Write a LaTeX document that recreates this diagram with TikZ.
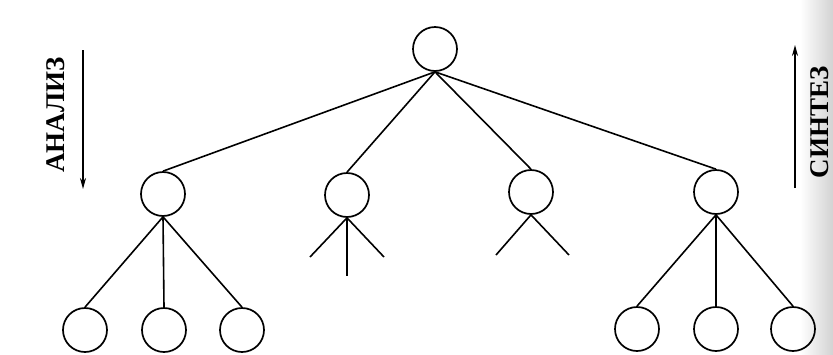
\documentclass[tikz,border=0pt]{standalone}
\usepackage{fontspec}
\setmainfont{Liberation Serif}
\usetikzlibrary{arrows.meta}
\tikzset{
  vertex/.style={draw, circle, line width=1.7pt, minimum size=44pt, inner sep=0pt},
  branch/.style={line width=1.6pt},
  dirarrow/.style={line width=1.7pt, -{Stealth[length=11pt, width=6pt]}},
  dirlabel/.style={rotate=90, font=\fontsize{27}{27}\selectfont\bfseries, inner sep=0pt}
}
\begin{document}
\begin{tikzpicture}[x=1pt, y=-1pt]
  \useasboundingbox (0,0) rectangle (833,354);
  \fill[white] (0,0) rectangle (833,354);
  % darkened page edge on the right
  \shade[left color=white, right color=gray!35] (800,0) rectangle (833,354);

  % root
  \node[vertex] (r) at (435,49) {};
  % second level
  \node[vertex] (a) at (163,194) {};
  \node[vertex] (b) at (347,195) {};
  \node[vertex] (c) at (531,192) {};
  \node[vertex] (d) at (716,192) {};
  % leaves
  \node[vertex] (a1) at (85,330) {};
  \node[vertex] (a2) at (164,330) {};
  \node[vertex] (a3) at (242,330) {};
  \node[vertex] (d1) at (637,329) {};
  \node[vertex] (d2) at (716,329) {};
  \node[vertex] (d3) at (793,329) {};

  % open ends of the middle branches
  \coordinate (b1) at (310,257);
  \coordinate (b2) at (347,276);
  \coordinate (b3) at (384,257);
  \coordinate (c1) at (496,255);
  \coordinate (c2) at (569,255);

  \foreach \n in {a,b,c,d} \draw[branch] (r.south) -- (\n.north);
  \foreach \n in {a1,a2,a3} \draw[branch] (a.south) -- (\n.north);
  \foreach \n in {d1,d2,d3} \draw[branch] (d.south) -- (\n.north);
  \foreach \n in {b1,b2,b3} \draw[branch] (b.south) -- (\n);
  \foreach \n in {c1,c2} \draw[branch] (c.south) -- (\n);

  % direction arrows with their labels
  \coordinate (an1) at (83,50);
  \coordinate (an2) at (83,189);
  \coordinate (sy1) at (795,188);
  \coordinate (sy2) at (795,45);
  \draw[dirarrow] (an1) -- (an2);
  \draw[dirarrow] (sy1) -- (sy2);
  \node[dirlabel] (analiz) at (56,115) {АНАЛИЗ};
  \node[dirlabel] (sintez) at (820,122) {СИНТЕЗ};
\end{tikzpicture}
\end{document}
